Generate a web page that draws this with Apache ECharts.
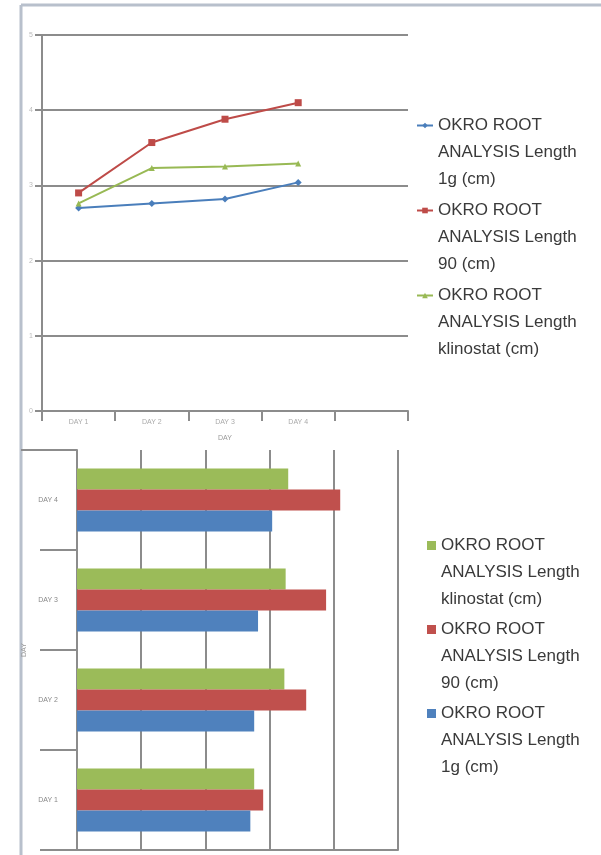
<!DOCTYPE html>
<html>
<head>
<meta charset="utf-8">
<script src="https://cdn.jsdelivr.net/npm/echarts@6/dist/echarts.min.js"></script>
<style>
  html, body { margin: 0; padding: 0; background: #fff; }
  #chart { width: 601px; height: 855px; }
</style>
</head>
<body>
<div id="chart"></div>
<script>
// days (categories)
const days = ['DAY 1', 'DAY 2', 'DAY 3', 'DAY 4']
// root length per condition (cm)
const len1g = [2.7, 2.76, 2.82, 3.04]
const len90 = [2.9, 3.57, 3.88, 4.1]
const lenKlino = [2.76, 3.23, 3.25, 3.29]
const names = [
  'OKRO ROOT ANALYSIS Length 1g (cm)',
  'OKRO ROOT ANALYSIS Length 90 (cm)',
  'OKRO ROOT ANALYSIS Length klinostat (cm)'
]
const colors = ['#4a7ebb', '#be4b48', '#98b954']
const font = 'Liberation Sans'

// two empty lines on top so the icon sits beside the first text line
const wrapName = (name) => '\n\n' + name.replace('ROOT ', 'ROOT\n').replace('Length ', 'Length\n')

const legendText = {
  fontFamily: font,
  fontSize: 17,
  color: '#3a3a3a',
  lineHeight: 27
}

const chart = echarts.init(document.getElementById('chart'), null, { renderer: 'canvas' })

chart.setOption({
  backgroundColor: '#fff',
  animation: false,
  textStyle: { fontFamily: font },
  grid: [
    { left: 42, top: 35, width: 366, height: 376 },
    { left: 77, top: 450, width: 321, height: 400 }
  ],
  legend: [
    {
      orient: 'vertical',
      left: 416,
      top: 58,
      padding: 0,
      itemGap: -50,
      itemWidth: 16,
      itemHeight: 7,
      data: names,
      formatter: wrapName,
      textStyle: legendText
    },
    {
      orient: 'vertical',
      left: 427,
      top: 478,
      padding: 0,
      itemGap: -51,
      itemWidth: 9,
      itemHeight: 9,
      data: [
        { name: names[2], icon: 'rect', itemStyle: { color: '#9bbb59' } },
        { name: names[1], icon: 'rect', itemStyle: { color: '#c0504d' } },
        { name: names[0], icon: 'rect', itemStyle: { color: '#4f81bd' } }
      ],
      formatter: wrapName,
      textStyle: legendText
    }
  ],
  xAxis: [
    {
      gridIndex: 0,
      type: 'category',
      data: days.concat(['']),
      boundaryGap: true,
      name: 'DAY',
      nameLocation: 'middle',
      nameGap: 24,
      nameTextStyle: { fontSize: 7, color: '#999' },
      axisLine: { lineStyle: { color: '#8c8c8c', width: 2 } },
      axisTick: { show: true, length: 10, lineStyle: { color: '#8c8c8c', width: 2 } },
      axisLabel: { fontSize: 7, color: '#aaa', margin: 8 },
      splitLine: { show: false }
    },
    {
      gridIndex: 1,
      type: 'value',
      min: 0,
      max: 5,
      interval: 1,
      axisLine: { show: true, lineStyle: { color: '#8c8c8c', width: 2 } },
      axisTick: { show: false },
      axisLabel: { show: false },
      splitLine: { lineStyle: { color: '#8c8c8c', width: 2 } }
    }
  ],
  yAxis: [
    {
      gridIndex: 0,
      type: 'value',
      min: 0,
      max: 5,
      interval: 1,
      axisLine: { show: true, lineStyle: { color: '#8c8c8c', width: 2 } },
      axisTick: { show: true, length: 7, lineStyle: { color: '#8c8c8c', width: 2 } },
      axisLabel: { fontSize: 7, color: '#bbb', margin: 9 },
      splitLine: { lineStyle: { color: '#8c8c8c', width: 2 } }
    },
    {
      gridIndex: 1,
      type: 'category',
      data: days,
      name: 'DAY',
      nameLocation: 'middle',
      nameGap: 46,
      nameTextStyle: { fontSize: 7, color: '#999' },
      axisLine: { lineStyle: { color: '#8c8c8c', width: 2 } },
      axisTick: { show: true, length: 37, lineStyle: { color: '#8c8c8c', width: 2 } },
      axisLabel: { fontSize: 7, color: '#888', margin: 19 }
    }
  ],
  series: [
    {
      name: names[0], type: 'line', xAxisIndex: 0, yAxisIndex: 0, data: len1g,
      color: colors[0], symbol: 'diamond', symbolSize: 7, lineStyle: { width: 2 }
    },
    {
      name: names[1], type: 'line', xAxisIndex: 0, yAxisIndex: 0, data: len90,
      color: colors[1], symbol: 'rect', symbolSize: 7, lineStyle: { width: 2 }
    },
    {
      name: names[2], type: 'line', xAxisIndex: 0, yAxisIndex: 0, data: lenKlino,
      color: colors[2], symbol: 'triangle', symbolSize: 6, lineStyle: { width: 2 }
    },
    // bars: first series is drawn on top of each group
    {
      name: names[2], type: 'bar', xAxisIndex: 1, yAxisIndex: 1, data: lenKlino,
      itemStyle: { color: '#9bbb59' }, barWidth: 21, barGap: '0%'
    },
    {
      name: names[1], type: 'bar', xAxisIndex: 1, yAxisIndex: 1, data: len90,
      itemStyle: { color: '#c0504d' }, barWidth: 21, barGap: '0%'
    },
    {
      name: names[0], type: 'bar', xAxisIndex: 1, yAxisIndex: 1, data: len1g,
      itemStyle: { color: '#4f81bd' }, barWidth: 21, barGap: '0%'
    }
  ],
  graphic: [
    { type: 'line', shape: { x1: 21, y1: 5, x2: 601, y2: 5 }, style: { stroke: '#b8c0cc', lineWidth: 3 } },
    { type: 'line', shape: { x1: 21, y1: 5, x2: 21, y2: 855 }, style: { stroke: '#b8c0cc', lineWidth: 3 } },
    { type: 'line', shape: { x1: 21, y1: 450, x2: 77, y2: 450 }, style: { stroke: '#8c8c8c', lineWidth: 2 } }
  ]
})
</script>
</body>
</html>
